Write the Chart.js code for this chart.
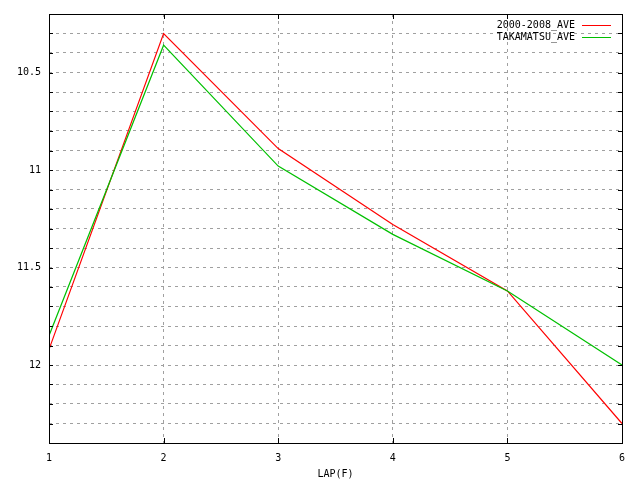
<!DOCTYPE html>
<html>
<head>
<meta charset="utf-8">
<script src="https://cdn.jsdelivr.net/npm/chart.js@4/dist/chart.umd.min.js"></script>
<style>
  html, body { margin: 0; padding: 0; background: #fff; }
  #wrap { width: 640px; height: 480px; }
</style>
</head>
<body>
<div id="wrap"><canvas id="chart" width="640" height="480"></canvas></div>
<script>
// ── Data ───────────────────────────────────────────────
const laps = [1, 2, 3, 4, 5, 6];
const aveValues = [11.92, 10.30, 10.89, 11.28, 11.62, 12.30];
const takamatsuValues = [11.85, 10.36, 10.98, 11.33, 11.62, 12.00];
const seriesNames = ['2000-2008_AVE', 'TAKAMATSU_AVE'];
const yLabelTicks = [10.5, 11, 11.5, 12];

const FONT = { family: 'DejaVu Sans Mono', size: 10 };
const GRID = '#a0a0a0';

// ── Frame, inward ticks, legend ────────────────────────
const framePlugin = {
  id: 'frame',
  afterDraw(chart) {
    const { ctx, chartArea: a, scales } = chart;
    ctx.save();
    ctx.strokeStyle = '#000';
    ctx.lineWidth = 1;
    ctx.beginPath();
    scales.y.ticks.forEach(t => {
      const y = Math.round(scales.y.getPixelForValue(t.value)) + 0.5;
      ctx.moveTo(a.left, y); ctx.lineTo(a.left + 4, y);
      ctx.moveTo(a.right, y); ctx.lineTo(a.right - 4, y);
    });
    scales.x.ticks.forEach(t => {
      const x = Math.round(scales.x.getPixelForValue(t.value)) + 0.5;
      ctx.moveTo(x, a.bottom); ctx.lineTo(x, a.bottom - 5);
      ctx.moveTo(x, a.top); ctx.lineTo(x, a.top + 5);
    });
    ctx.stroke();
    ctx.strokeRect(Math.round(a.left) + 0.5, Math.round(a.top) + 0.5,
      Math.round(a.right - a.left), Math.round(a.bottom - a.top));

    // legend, gnuplot style: text then sample line
    ctx.font = `${FONT.size}px ${FONT.family}`;
    ctx.textAlign = 'right';
    ctx.textBaseline = 'middle';
    chart.data.datasets.forEach((ds, i) => {
      const y = a.top + 11 + i * 12;
      ctx.fillStyle = '#000';
      ctx.fillText(ds.label, a.right - 47, y);
      ctx.strokeStyle = ds.borderColor;
      ctx.beginPath();
      ctx.moveTo(a.right - 40, Math.round(y) + 0.5);
      ctx.lineTo(a.right - 11, Math.round(y) + 0.5);
      ctx.stroke();
    });
    ctx.restore();
  }
};

// ── Chart ──────────────────────────────────────────────
const gridColor = ctx => (ctx.index === 0 || ctx.index === ctx.chart.scales[ctx.scale.id].ticks.length - 1) ? 'rgba(0,0,0,0)' : GRID;

new Chart(document.getElementById('chart'), {
  type: 'line',
  data: {
    datasets: [
      { label: seriesNames[0], data: laps.map((x, i) => ({ x, y: aveValues[i] })), borderColor: '#ff0000', order: 2 },
      { label: seriesNames[1], data: laps.map((x, i) => ({ x, y: takamatsuValues[i] })), borderColor: '#00c000', order: 1 },
    ],
  },
  options: {
    responsive: false,
    animation: false,
    layout: { padding: { top: 11, right: 18, left: 0, bottom: 0 } },
    elements: {
      line: { borderWidth: 1.2, tension: 0, fill: false },
      point: { radius: 0 },
    },
    plugins: { legend: { display: false }, tooltip: { enabled: false } },
    scales: {
      x: {
        type: 'linear',
        min: 1, max: 6,
        afterFit: s => { s.height = 37; },
        ticks: { stepSize: 1, color: '#000', font: FONT, padding: 9, maxRotation: 0 },
        grid: { color: gridColor, drawTicks: false },
        border: { display: false, dash: [3, 4] },
        title: { display: true, text: 'LAP(F)', color: '#000', font: FONT, padding: { top: 0, bottom: 0 } },
      },
      y: {
        reverse: true,
        min: 10.2, max: 12.4,
        afterFit: s => { s.width = 49; },
        ticks: {
          stepSize: 0.1, color: '#000', font: FONT, padding: 8, autoSkip: false,
          callback: v => yLabelTicks.some(t => Math.abs(t - v) < 1e-6) ? String(+v.toFixed(1)) : '',
        },
        grid: { color: gridColor, drawTicks: false },
        border: { display: false, dash: [3, 4] },
      },
    },
  },
  plugins: [framePlugin],
});
</script>
</body>
</html>
